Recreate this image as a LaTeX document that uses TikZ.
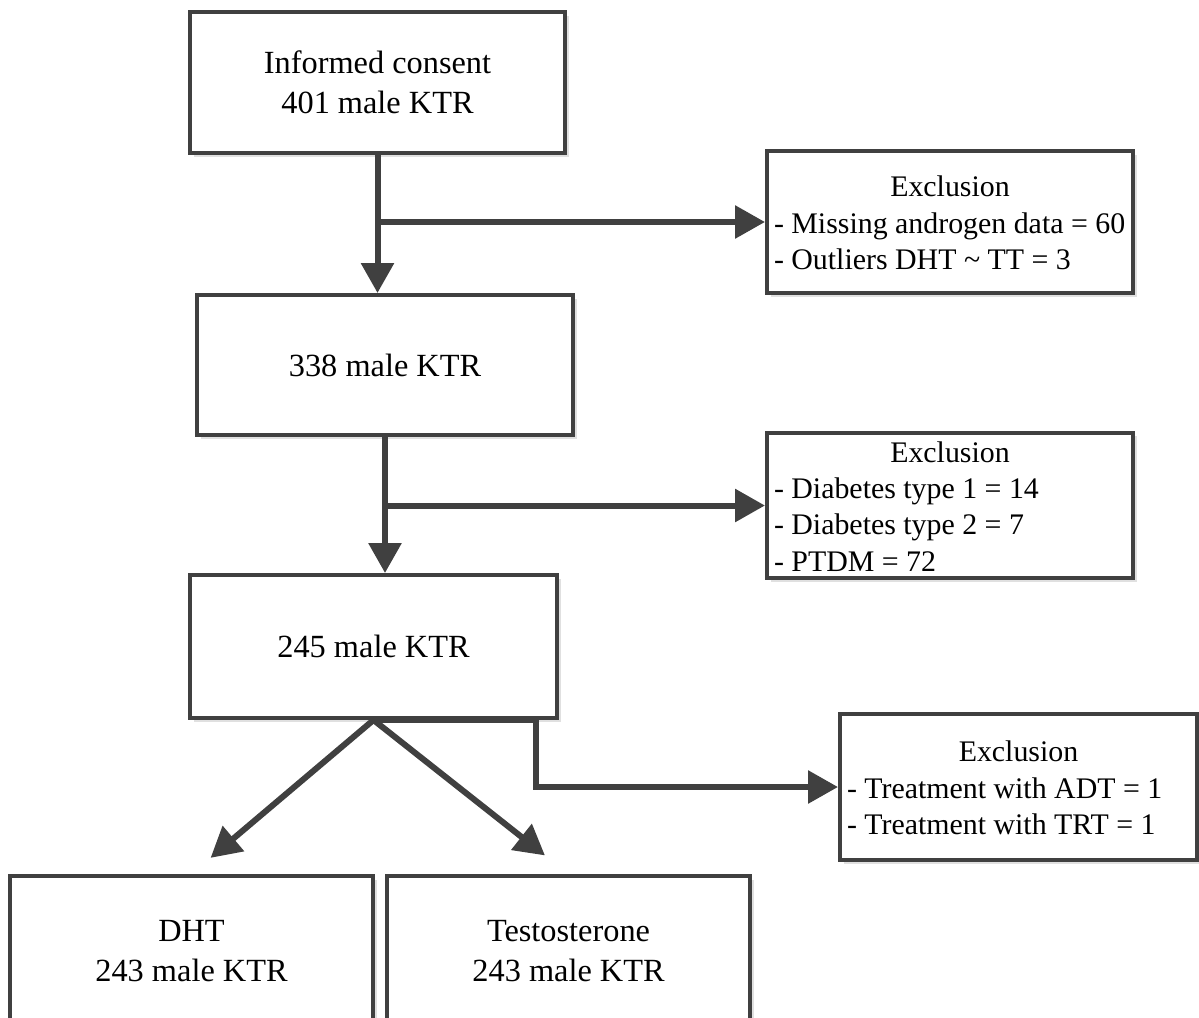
\documentclass[tikz,border=0pt]{standalone}
\usepackage{fontspec}
\setmainfont{Liberation Serif}
\usepackage{xcolor}
\usepackage{tikz}
\usetikzlibrary{arrows.meta,shadows,calc}

\definecolor{darkline}{HTML}{404040}
% list of exclusions: centred heading, left aligned lines
\newcommand{\excllist}[2]{\raisebox{-0.08cm}[\height][\depth]{\begin{tabular}{@{}l@{}}\makebox[#1][c]{Exclusion}\\#2\end{tabular}}}

\begin{document}
\begin{tikzpicture}[
		box/.style={draw=darkline, line width=0.08cm, fill=white, inner sep=0pt, align=center,
			font=\fontsize{18.4}{22.7}\selectfont,
			drop shadow={shadow xshift=0.07cm, shadow yshift=-0.07cm, fill=black!12, opacity=1}},
		exclbox/.style={box, font=\fontsize{17}{20.7}\selectfont},
		flow/.style={draw=darkline, line width=0.12cm, -{Triangle[length=0.6cm,width=0.64cm]}}
	]
	\useasboundingbox (0,0) rectangle (23.98,-20.34);
	% main column
	\node[box, minimum width=7.5cm, minimum height=2.82cm] (consent) at (7.55,-1.65) {Informed consent\\401 male KTR};
	\node[box, minimum width=7.52cm, minimum height=2.8cm] (n338) at (7.7,-7.3) {338 male KTR};
	\node[box, minimum width=7.34cm, minimum height=2.86cm] (n245) at (7.47,-12.93) {245 male KTR};
	\node[box, minimum width=7.26cm, minimum height=3cm] (dht) at (3.83,-19.02) {DHT\\243 male KTR};
	\node[box, minimum width=7.26cm, minimum height=3cm] (testo) at (11.37,-19.02) {Testosterone\\243 male KTR};
	% exclusions
	\node[exclbox, minimum width=7.32cm, minimum height=2.84cm] (excla) at (19.0,-4.44)
		{\excllist{7.04cm}{- Missing androgen data = 60\\- Outliers DHT \textasciitilde{} TT = 3}};
	\node[exclbox, minimum width=7.32cm, minimum height=2.9cm] (exclb) at (19.0,-10.11)
		{\excllist{7.04cm}{- Diabetes type 1 = 14\\- Diabetes type 2 = 7\\- PTDM = 72}};
	\node[exclbox, minimum width=7.14cm, minimum height=2.92cm] (exclc) at (20.37,-15.74)
		{\excllist{6.86cm}{- Treatment with ADT = 1\\- Treatment with TRT = 1}};

	% arrows
	\draw[flow] (consent.south) -- (consent.south |- n338.north);
	\draw[flow] (consent.south |- excla.west) -- (excla.west);
	\draw[flow] (n338.south) -- (n338.south |- n245.north);
	\draw[flow] (n338.south |- exclb.west) -- (exclb.west);
	\draw[flow] (n245.south) -- ++(3.24,0) |- (exclc.west);
	\draw[flow, shorten >=0.5cm] (n245.south) -- (dht.north);
	\draw[flow, shorten >=0.6cm] (n245.south) -- (testo.north);
\end{tikzpicture}
\end{document}
